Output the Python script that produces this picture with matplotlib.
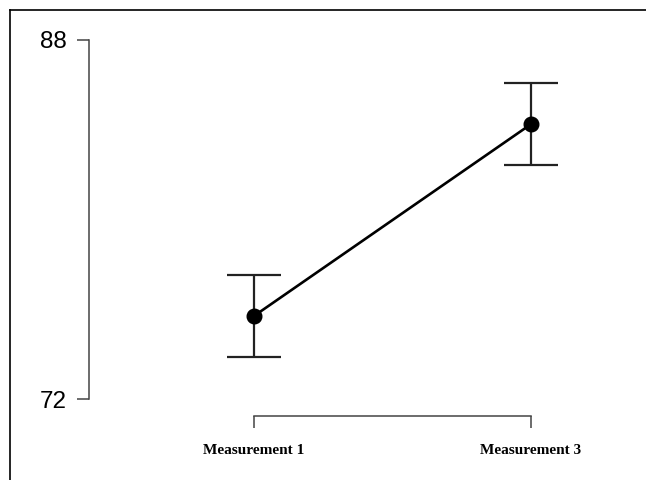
import matplotlib
matplotlib.use("Agg")
import matplotlib.pyplot as plt
from matplotlib.lines import Line2D

# values
labels = ["Measurement 1", "Measurement 3"]
means = [75.7, 84.25]
errs = [1.83, 1.83]
positions = [1, 2]

fig = plt.figure(figsize=(6.46, 4.80), dpi=100)
ax = fig.add_axes([89 / 646, 64 / 480, (600 - 89) / 646, (416 - 30) / 480])

ax.errorbar(positions, means, yerr=errs, fmt="none", ecolor="#222222",
            elinewidth=1.6, capsize=19.5, capthick=1.6, zorder=2)
ax.plot(positions, means, color="black", linewidth=1.9, marker="o",
        markersize=10.5, zorder=3)

ax.set_xlim(1 - 165 / 277, 2 + 69 / 277)
ax.set_ylim(72 - 17 / 22.44, 88 + 10 / 22.44)

for s in ["top", "right"]:
    ax.spines[s].set_visible(False)
ax.spines["left"].set_bounds(72, 88)
ax.spines["bottom"].set_bounds(1, 2)
for s in ["left", "bottom"]:
    ax.spines[s].set_color("#444444")
    ax.spines[s].set_linewidth(1.1)

ax.set_yticks([72, 88])
ax.set_yticklabels(["72", "88"], fontsize=17.5, family="Liberation Sans")
ax.set_xticks(positions)
ax.set_xticklabels(labels, fontsize=11, family="Liberation Serif",
                   fontweight="bold")
ax.tick_params(axis="y", length=9, width=1.1, color="#444444", pad=7)
ax.tick_params(axis="x", length=8.5, width=1.1, color="#444444", pad=12)

# frame around the picture (left and top edges)
fig.add_artist(Line2D([10 / 646, 10 / 646], [0, 470 / 480], color="black",
                      linewidth=1.2, transform=fig.transFigure))
fig.add_artist(Line2D([10 / 646, 1], [470 / 480, 470 / 480], color="black",
                      linewidth=1.2, transform=fig.transFigure))

fig.savefig("out.png", dpi=100)
